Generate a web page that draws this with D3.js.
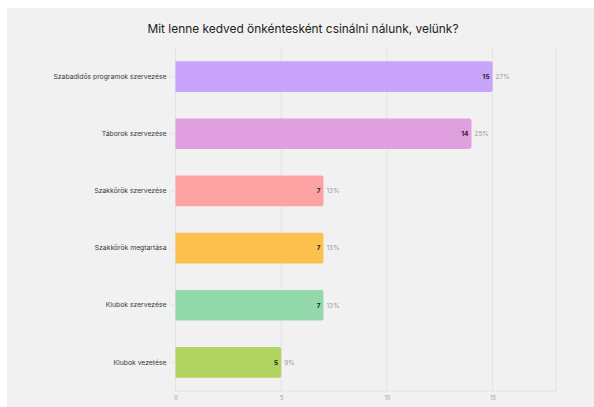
<!DOCTYPE html>
<html><head><meta charset="utf-8">
<script src="https://cdn.jsdelivr.net/npm/d3@7"></script>
<style>body{margin:0;background:#fff;}svg{display:block;}</style>
</head><body>
<script>
const title = "Mit lenne kedved önkéntesként csinálni nálunk, velünk?";
const categories = ["Szabadidős programok szervezése","Táborok szervezése","Szakkörök szervezése","Szakkörök megtartása","Klubok szervezése","Klubok vezetése"];
const values = [15,14,7,7,7,5];
const percents = ["27%","25%","13%","13%","13%","9%"];
const colors = ["#c8a5fb","#e09fdf","#fea3a3","#fec04f","#93d8aa","#b1d360"];
const xTicks = [0,5,10,15];

const W=594,H=407;
const svg=d3.select("body").append("svg").attr("width",W).attr("height",H);
svg.append("rect").attr("x",7).attr("y",8).attr("width",W-7).attr("height",H-8).attr("fill","#f1f1f1");
svg.append("text").attr("x",303).attr("y",33).attr("text-anchor","middle")
  .attr("font-family","Inter, 'Noto Sans', sans-serif").attr("font-size",11.9).attr("fill","#222").text(title);

const m={l:175.5,r:556,t:48,b:391};
const x=d3.scaleLinear().domain([0,18]).range([m.l,m.r]);
const y=d3.scaleBand().domain(categories).range([m.t,m.b]).paddingInner(0.464).paddingOuter(0.232);
const font="Inter, 'Noto Sans', sans-serif";

// grid
const g=svg.append("g");
g.selectAll("line.grid").data(xTicks.concat([18])).join("line")
 .attr("x1",d=>x(d)).attr("x2",d=>x(d)).attr("y1",m.t).attr("y2",m.b)
 .attr("stroke","#e2e2ea").attr("stroke-width",1);
g.append("line").attr("x1",m.l).attr("x2",m.r).attr("y1",m.b).attr("y2",m.b).attr("stroke","#e2e2ea");

// x axis labels
const xa=svg.append("g").attr("transform",`translate(0,${m.b})`)
 .call(d3.axisBottom(x).tickValues(xTicks).tickSize(0).tickPadding(5));
xa.select(".domain").remove();
xa.selectAll("text").attr("font-family",font).attr("font-size",5.5).attr("fill","#999");

// y axis
const ya=svg.append("g").attr("transform",`translate(${m.l},0)`)
 .call(d3.axisLeft(y).tickSize(5).tickPadding(4));
ya.select(".domain").remove();
ya.selectAll("line").attr("stroke","#e2e2ea");
ya.selectAll("text").attr("font-family",font).attr("font-size",6.8).attr("fill","#3a3a3a");

const data=categories.map((c,i)=>({c,v:values[i],p:percents[i],col:colors[i]}));
const bars=svg.append("g");
bars.selectAll("path").data(data).join("path")
 .attr("d",d=>{const x0=x(0),x1=x(d.v),y0=y(d.c),h=y.bandwidth(),r=2;
   return `M${x0},${y0}H${x1-r}Q${x1},${y0} ${x1},${y0+r}V${y0+h-r}Q${x1},${y0+h} ${x1-r},${y0+h}H${x0}Z`;})
 .attr("fill",d=>d.col);
bars.selectAll("text.v").data(data).join("text").attr("class","v")
 .attr("x",d=>x(d.v)-3).attr("y",d=>y(d.c)+y.bandwidth()/2).attr("dy","0.35em")
 .attr("text-anchor","end").attr("font-family",font).attr("font-size",6.5).attr("font-weight","bold").attr("fill","#222")
 .text(d=>d.v);
bars.selectAll("text.p").data(data).join("text").attr("class","p")
 .attr("x",d=>x(d.v)+3).attr("y",d=>y(d.c)+y.bandwidth()/2).attr("dy","0.35em")
 .attr("font-family",font).attr("font-size",6.5).attr("fill","#999")
 .text(d=>d.p);
</script>
</body></html>
